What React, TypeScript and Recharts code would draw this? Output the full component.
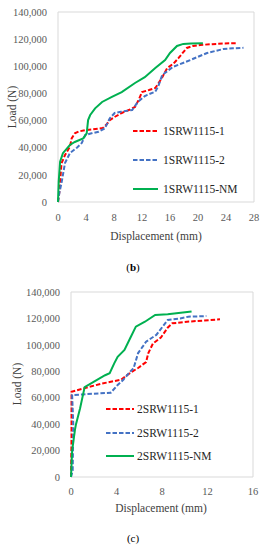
import React from 'react';
import { LineChart, Line, XAxis, YAxis, ReferenceArea, Legend } from 'recharts';

// ---------- Panel (b) ----------
const b1Disp = [0, 0.1, 0.2, 0.3, 0.5, 1.0, 1.7, 1.95, 2.4, 3.0, 3.9, 5.0, 6.4, 7.0, 7.4, 8.2, 9.1, 10.2, 11.0, 11.5, 12.0, 13.0, 13.9, 14.3, 14.9, 15.6, 16.5, 17.2, 18.4, 19.3, 20.3, 22.0, 23.6, 25.6];
const b1Load = [0, 4000, 7600, 15000, 28500, 34600, 40700, 46900, 50600, 52000, 53000, 53500, 54500, 57500, 60400, 63000, 65600, 68000, 70000, 75000, 81000, 82500, 84000, 87000, 92000, 98700, 102000, 106000, 113500, 115000, 115700, 116300, 116800, 117000];

const b2Disp = [0, 0.2, 0.5, 1.0, 1.7, 2.7, 3.4, 3.9, 4.8, 5.8, 6.7, 7.4, 8.1, 9.0, 10.6, 11.4, 12.4, 12.7, 13.9, 14.3, 14.9, 16.4, 18.9, 21.3, 23.6, 25.0, 26.5];
const b2Load = [0, 7000, 14000, 28700, 36000, 40000, 43500, 49400, 50600, 51800, 54300, 61700, 65600, 66500, 67800, 73700, 78000, 78800, 81300, 85000, 93600, 99500, 104600, 109800, 112700, 113300, 113600];

const bNmDisp = [0, 0.1, 0.3, 0.7, 1.7, 2.4, 3.6, 4.1, 4.3, 4.6, 5.3, 6.3, 7.7, 9.1, 11.0, 12.4, 13.9, 15.3, 16.0, 17.0, 17.9, 19.0, 20.7];
const bNmLoad = [0, 15000, 29700, 36000, 42000, 44200, 46900, 50600, 60400, 64100, 69000, 73700, 77400, 81000, 87700, 92000, 98700, 104600, 109800, 115000, 116500, 116800, 117000];

// ---------- Panel (c) ----------
const c1Disp = [0, 0.05, 0.05, 2.65, 4.4, 5.2, 5.9, 6.6, 6.8, 7.2, 7.9, 8.5, 8.9, 10.2, 13.1];
const c1Load = [0, 30000, 64500, 70600, 73600, 78800, 82500, 87000, 93800, 101000, 105500, 113000, 116300, 117500, 119300];

const c2Disp = [0, 0.15, 0.2, 0.1, 1.0, 3.5, 4.1, 4.6, 5.2, 5.5, 5.9, 6.3, 6.6, 7.5, 8.5, 9.6, 10.3, 11.9];
const c2Load = [0, 5000, 40000, 62000, 62500, 63800, 69600, 73600, 79700, 82300, 93800, 98600, 102400, 107500, 118800, 120000, 121300, 121800];

const cNmDisp = [0, 0.1, 0.35, 0.44, 0.8, 1.2, 2.1, 3.0, 3.4, 3.8, 4.1, 4.7, 5.2, 5.7, 6.5, 7.4, 8.5, 10.6];
const cNmLoad = [0, 20000, 35800, 40000, 52000, 68000, 72500, 77000, 78500, 86000, 91000, 96100, 105000, 113800, 117500, 122600, 123100, 125300];

const bTicksX = [0, 4, 8, 12, 16, 20, 24, 28];
const cTicksX = [0, 4, 8, 12, 16];
const ticksY = [0, 20000, 40000, 60000, 80000, 100000, 120000, 140000];

const namesB = ['1SRW1115-1', '1SRW1115-2', '1SRW1115-NM'];
const namesC = ['2SRW1115-1', '2SRW1115-2', '2SRW1115-NM'];

const zip = (xs: number[], ys: number[]) => xs.map((x, i) => ({ x, y: ys[i] }));

const FONT = '"Liberation Serif", "Times New Roman", serif';
const RED = '#FF0000';
const BLUE = '#4472C4';
const GREEN = '#00B050';
const DASH = '4.5 2';
const fmt = (v: number) => v.toLocaleString('en-US');

function makeLegend(rowH: number, lineW: number, gap: number) {
  return (props: any) => {
    const payload = props.payload || [];
    return (
      <div style={{ fontFamily: FONT, fontSize: 11.5, color: '#262626', textAlign: 'left' }}>
        {payload.map((p: any) => {
          const solid = String(p.value).endsWith('NM');
          return (
            <div key={p.value} style={{ display: 'flex', alignItems: 'center', height: rowH, whiteSpace: 'nowrap' }}>
              <svg width={lineW} height={4} style={{ display: 'block' }}>
                <line x1={0} y1={2} x2={lineW} y2={2} stroke={p.color} strokeWidth={2} strokeDasharray={solid ? undefined : DASH} />
              </svg>
              <span style={{ marginLeft: gap }}>{p.value}</span>
            </div>
          );
        })}
      </div>
    );
  };
}

const tickStyle = { fontFamily: FONT, fontSize: 10.5, fill: '#595959' };

const abs = (left: number, top: number, extra: any = {}) => ({
  position: 'absolute' as const,
  left,
  top,
  fontFamily: FONT,
  color: '#404040',
  whiteSpace: 'nowrap' as const,
  ...extra,
});

export default function App() {
  return (
    <div style={{ position: 'absolute', left: 0, top: 0, width: 266, height: 550, background: '#fff' }}>
      {/* Panel (b) */}
      <div style={{ position: 'absolute', left: 0, top: 0 }}>
        <LineChart width={266} height={250} margin={{ top: 12, right: 12, left: 0, bottom: 0 }}>
          <XAxis dataKey="x" type="number" domain={[0, 28]} ticks={bTicksX} axisLine={false} tickLine={false} tickSize={0} tickMargin={12} height={48} tick={tickStyle} allowDuplicatedCategory={false} />
          <YAxis type="number" domain={[0, 140000]} ticks={ticksY} tickFormatter={fmt} axisLine={false} tickLine={false} tickSize={0} tickMargin={11} width={58} tick={tickStyle} />
          <ReferenceArea x1={0} x2={28} y1={0} y2={140000} fill="none" stroke="#d9d9d9" strokeWidth={1} ifOverflow="visible" />
          <Line data={zip(b1Disp, b1Load)} dataKey="y" name={namesB[0]} stroke={RED} strokeWidth={2} strokeDasharray={DASH} dot={false} isAnimationActive={false} />
          <Line data={zip(b2Disp, b2Load)} dataKey="y" name={namesB[1]} stroke={BLUE} strokeWidth={2} strokeDasharray={DASH} dot={false} isAnimationActive={false} />
          <Line data={zip(bNmDisp, bNmLoad)} dataKey="y" name={namesB[2]} stroke={GREEN} strokeWidth={2} dot={false} isAnimationActive={false} />
          <Legend layout="horizontal" verticalAlign="middle" align="center" content={makeLegend(29, 25, 5)} wrapperStyle={{ left: 133, top: 116.5, width: 120 }} />
        </LineChart>
      </div>
      <div style={abs(12, 107, { fontSize: 11.5, transform: 'translate(-50%, -50%) rotate(-90deg)' })}>Load (N)</div>
      <div style={abs(156, 236, { fontSize: 11.5, transform: 'translate(-50%, -50%)' })}>Displacement (mm)</div>
      <div style={abs(133, 267, { fontSize: 11, color: '#000', transform: 'translate(-50%, -50%)' })}>(<b>b</b>)</div>

      {/* Panel (c) */}
      <div style={{ position: 'absolute', left: 0, top: 280 }}>
        <LineChart width={266} height={250} margin={{ top: 12, right: 13, left: 0, bottom: 0 }}>
          <XAxis dataKey="x" type="number" domain={[0, 16]} ticks={cTicksX} axisLine={false} tickLine={false} tickSize={0} tickMargin={11} height={53} tick={tickStyle} allowDuplicatedCategory={false} />
          <YAxis type="number" domain={[0, 140000]} ticks={ticksY} tickFormatter={fmt} axisLine={false} tickLine={false} tickSize={0} tickMargin={11} width={71} tick={tickStyle} />
          <ReferenceArea x1={0} x2={16} y1={0} y2={140000} fill="none" stroke="#d9d9d9" strokeWidth={1} ifOverflow="visible" />
          <Line data={zip(c1Disp, c1Load)} dataKey="y" name={namesC[0]} stroke={RED} strokeWidth={2} strokeDasharray={DASH} dot={false} isAnimationActive={false} />
          <Line data={zip(c2Disp, c2Load)} dataKey="y" name={namesC[1]} stroke={BLUE} strokeWidth={2} strokeDasharray={DASH} dot={false} isAnimationActive={false} />
          <Line data={zip(cNmDisp, cNmLoad)} dataKey="y" name={namesC[2]} stroke={GREEN} strokeWidth={2} dot={false} isAnimationActive={false} />
          <Legend layout="horizontal" verticalAlign="middle" align="center" content={makeLegend(23.5, 28, 3)} wrapperStyle={{ left: 106, top: 117.5, width: 140 }} />
        </LineChart>
      </div>
      <div style={abs(17, 384, { fontSize: 11.5, transform: 'translate(-50%, -50%) rotate(-90deg)' })}>Load (N)</div>
      <div style={abs(161, 508, { fontSize: 11.5, transform: 'translate(-50%, -50%)' })}>Displacement (mm)</div>
      <div style={abs(133, 538, { fontSize: 11, color: '#000', transform: 'translate(-50%, -50%)' })}>(c)</div>
    </div>
  );
}
